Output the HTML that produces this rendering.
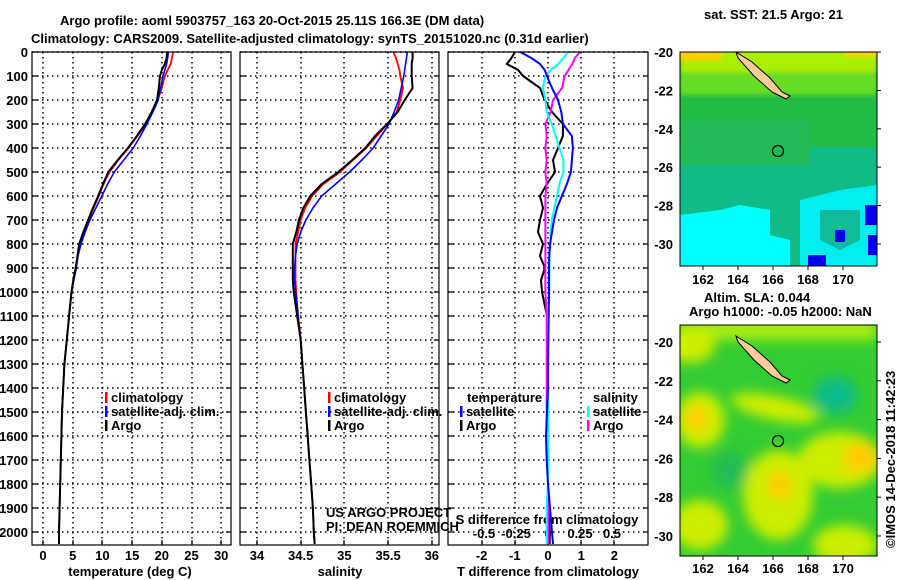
<!DOCTYPE html>
<html><head><meta charset="utf-8"><style>
html,body{margin:0;padding:0;background:#fff}
svg{display:block}
text{font-family:"Liberation Sans",Arial,sans-serif;font-weight:bold;font-size:13px;fill:#000}
</style></head><body>
<svg id="fig" width="900" height="580" viewBox="0 0 900 580" xmlns="http://www.w3.org/2000/svg">
<defs>
<filter id="blur1" x="-20%" y="-20%" width="140%" height="140%"><feGaussianBlur stdDeviation="2"/></filter>
<filter id="blur2" x="-30%" y="-30%" width="160%" height="160%"><feGaussianBlur stdDeviation="6"/></filter>
<clipPath id="clipTop"><rect x="680" y="52" width="197" height="214"/></clipPath>
<clipPath id="clipBot"><rect x="680" y="325" width="197" height="231"/></clipPath>
</defs>
<text x="60" y="25" font-size="14">Argo profile: aoml 5903757_163 20-Oct-2015 25.11S 166.3E (DM data)</text>
<text x="31" y="43" font-size="14">Climatology: CARS2009. Satellite-adjusted climatology: synTS_20151020.nc (0.31d earlier)</text>

<g clip-path="url(#clipTop)">
<rect x="680" y="52" width="197" height="214" fill="#11bb88"/>
<rect x="680" y="52" width="197" height="95" fill="#22bb44"/>
<g filter="url(#blur1)">
<rect x="680" y="40" width="197" height="55" fill="#66dd22"/>
<rect x="680" y="40" width="197" height="32" fill="#aaee00"/>
<rect x="676" y="40" width="45" height="20" fill="#ffcc00"/>
<rect x="845" y="40" width="40" height="16" fill="#ffcc00"/>
<rect x="680" y="120" width="130" height="45" fill="#22bb55"/>
</g>
<path d="M680 215 L720 210 L740 205 L770 210 L770 235 L790 240 L790 266 L680 266Z" fill="#00ffff"/>
<path d="M800 200 L840 190 L877 185 L877 266 L800 266Z" fill="#00eeee"/>
<path d="M820 210 L860 210 L860 240 L840 250 L820 240Z" fill="#11bb99"/>
<rect x="865" y="205" width="12" height="20" fill="#0000ee"/>
<rect x="835" y="230" width="10" height="12" fill="#0000ee"/>
<rect x="808" y="255" width="18" height="11" fill="#0000ee"/>
<rect x="868" y="235" width="9" height="20" fill="#0000ee"/>
<path d="M736 52 L752 62 L770 78 L782 92 L790 96 L786 99 L772 92 L754 76 L738 58Z" fill="#ffcc99" stroke="#000" stroke-width="1"/>
<circle cx="778" cy="151" r="5.5" fill="none" stroke="#000" stroke-width="1.2"/>
</g>
<rect x="680" y="52" width="197" height="214" fill="none" stroke="#000" stroke-width="1"/>
<text x="704" y="19" font-size="12">sat. SST: 21.5 Argo: 21</text>

<g clip-path="url(#clipBot)">
<rect x="680" y="325" width="197" height="231" fill="#33cc33"/>
<g filter="url(#blur2)">
<rect x="680" y="320" width="197" height="20" fill="#aaee11"/>
<ellipse cx="700" cy="420" rx="25" ry="28" fill="#ccee00"/>
<ellipse cx="697" cy="418" rx="12" ry="12" fill="#ffcc00"/>
<ellipse cx="840" cy="460" rx="42" ry="28" fill="#ccee00"/>
<ellipse cx="860" cy="458" rx="18" ry="15" fill="#ffcc00"/>
<ellipse cx="778" cy="495" rx="35" ry="45" fill="#ccee00"/>
<ellipse cx="780" cy="485" rx="12" ry="15" fill="#ffcc00"/>
<ellipse cx="775" cy="408" rx="45" ry="12" fill="#ccee00" transform="rotate(12 775 408)"/>
<ellipse cx="700" cy="525" rx="28" ry="25" fill="#ccee00"/>
<ellipse cx="845" cy="545" rx="32" ry="20" fill="#ccee00"/>
<ellipse cx="690" cy="345" rx="25" ry="18" fill="#ccee00"/>
<ellipse cx="835" cy="395" rx="22" ry="18" fill="#11bb88"/>
<ellipse cx="730" cy="470" rx="18" ry="18" fill="#22bb55"/>
</g>
<path d="M736 336 L752 346 L770 362 L782 376 L790 380 L786 383 L772 376 L754 360 L738 342Z" fill="#ffcc99" stroke="#000" stroke-width="1"/>
<circle cx="778" cy="441" r="5.5" fill="none" stroke="#000" stroke-width="1.2"/>
</g>
<rect x="680" y="325" width="197" height="231" fill="none" stroke="#000" stroke-width="1"/>
<text x="704" y="302" font-size="12">Altim. SLA: 0.044</text>
<text x="689" y="316" font-size="12">Argo h1000: -0.05 h2000: NaN</text>
<text transform="translate(895,548) rotate(-90)" font-size="12" font-weight="normal">©IMOS 14-Dec-2018 11:42:23</text>

<g id="plots"></g>
</svg>
<script>
// ---- data ----
const depths = [0,25,50,75,100,150,200,250,300,350,400,450,500,550,600,650,700,750,800,850,900,950,1000,1100,1200,1300,1400,1500,1600,1700,1800,1900,2000,2050];
const tempArgo = [20.9,20.8,20.5,20.0,19.7,19.5,19.2,18.3,17.2,15.8,14.3,12.6,11.0,10.1,9.3,8.4,7.6,6.8,6.1,5.8,5.5,5.1,4.8,4.4,4.0,3.6,3.4,3.2,3.1,3.0,2.9,2.8,2.7,2.7];
const tempClim = [21.9,21.7,21.5,21.0,20.5,20.0,19.3,18.4,17.3,15.9,14.4,12.7,11.2,10.2,9.4,8.5,7.7,6.9,6.2,5.8,5.5,5.1,4.8,4.4,4.0,3.6,3.4,3.2,3.1,3.0,2.9,2.8,2.7,2.7];
const tempSat = [21.1,21.0,20.8,20.5,20.2,19.8,19.4,18.5,17.5,16.4,15.2,13.6,12.0,10.9,9.9,8.9,7.9,7.1,6.4,5.9,5.6,5.2,4.8,4.4,4.0,3.6,3.4,3.2,3.1,3.0,2.9,2.8,2.7,2.7];
const salArgo = [35.78,35.78,35.77,35.77,35.77,35.78,35.69,35.61,35.49,35.35,35.24,35.09,34.93,34.74,34.61,34.53,34.48,34.45,34.41,34.41,34.41,34.41,34.42,34.46,34.50,34.52,34.54,34.56,34.58,34.60,34.62,34.64,34.65,34.66];
const salClim = [35.56,35.59,35.61,35.63,35.64,35.67,35.64,35.60,35.49,35.37,35.25,35.10,34.95,34.76,34.63,34.55,34.50,34.47,34.44,34.44,34.44,34.44,34.45,34.47,34.50,34.52,34.54,34.56,34.58,34.60,34.62,34.64,34.65,34.66];
const salSat = [35.72,35.71,35.70,35.69,35.68,35.65,35.62,35.57,35.51,35.42,35.33,35.20,35.06,34.90,34.74,34.64,34.56,34.50,34.46,34.44,34.43,34.43,34.44,34.47,34.50,34.52,34.54,34.56,34.58,34.60,34.62,34.64,34.65,34.66];
const dTArgo = [-1.0,-1.1,-1.24,-0.9,-0.75,-0.24,-0.1,0.12,0.45,0.45,0.30,0.15,0.21,-0.03,-0.24,-0.15,-0.24,-0.30,-0.15,-0.24,-0.09,-0.21,-0.18,-0.03,0.0,0.0,0.0,0.0,0.0,0.0,0.0,0.0,0.05,0.05];
const dTSat = [-0.84,-0.5,-0.24,-0.1,-0.03,0.12,0.30,0.40,0.45,0.72,0.75,0.72,0.69,0.57,0.42,0.27,0.18,0.12,0.06,0.04,0.03,0.03,0.03,0.02,0.01,0.0,0.0,-0.03,-0.06,-0.04,0.0,0.06,0.12,0.15];
const dSSat = [0.16,0.12,0.08,0.02,-0.02,-0.04,-0.02,-0.01,0.03,0.06,0.09,0.12,0.12,0.09,0.07,0.05,0.03,0.02,0.02,0.01,0.01,0.01,0.01,0.0,0.0,0.0,0.0,0.0,0.0,0.0,0.0,-0.01,-0.01,-0.01];
const dSArgo = [0.25,0.21,0.19,0.16,0.13,0.11,0.04,0.02,-0.02,-0.01,-0.02,-0.01,-0.02,-0.01,-0.02,-0.02,-0.02,-0.02,-0.02,-0.02,-0.02,-0.02,-0.02,-0.01,-0.01,-0.01,-0.01,-0.01,-0.01,0.0,0.0,0.0,0.0,0.0];
const depthTicks = [0,100,200,300,400,500,600,700,800,900,1000,1100,1200,1300,1400,1500,1600,1700,1800,1900,2000];
const tempTicks = [0,5,10,15,20,25,30];
const salTicks = [34,34.5,35,35.5,36];
const salTickLabels = ["34","34.5","35","35.5","36"];
const dTTicks = [-2,-1,0,1,2];
const dSTicks = [-0.5,-0.25,0,0.25,0.5];
const dSTickLabels = ["-0.5","-0.25","0","0.25","0.5"];
const mapLonTicks = [162,164,166,168,170];
const mapLatTicks = [-20,-22,-24,-26,-28,-30];

// ---- scales ----
const yD = d => 52 + d*0.24;
const xT = t => 43 + t*5.94;
const xS = s => 257 + (s-34)*87.4;
const xDT = v => 548 + v*33.2;
const xDS = v => 548 + v*128;
const lonTop = lo => 703 + (lo-162)*17.5;
const latTop = la => 52 + (-20-la)*19.2;
const latBot = la => 342 + (-20-la)*19.4;

const NS='http://www.w3.org/2000/svg';
const G=document.getElementById('plots');
function mk(tag,attrs,parent){const e=document.createElementNS(NS,tag);for(const k in attrs)e.setAttribute(k,attrs[k]);(parent||G).appendChild(e);return e;}
function txt(x,y,s,anchor,size,parent){const e=mk('text',{x:x,y:y,'text-anchor':anchor||'start','font-size':size||13},parent);e.textContent=s;return e;}

const panels=[{x0:32,x1:231,name:'temperature'},{x0:240,x1:439,name:'salinity'},{x0:448,x1:648,name:'difference'}];
panels.forEach((p,i)=>{
  const g=mk('g',{});
  
  
  depthTicks.forEach(d=>{
    const yy=Math.round(yD(d));
    const l=mk('line',{x1:p.x0,x2:p.x1,y1:yy,y2:yy,stroke:'#000','stroke-width':1.5,'stroke-dasharray':'1.5,3.5'},g);
    
    
    mk('line',{x1:p.x0,x2:p.x0+5,y1:yy,y2:yy,stroke:'#000','stroke-width':1.2},g);
    mk('line',{x1:p.x1-5,x2:p.x1,y1:yy,y2:yy,stroke:'#000','stroke-width':1.2},g);
  });
  p.g=g;
});
function vgrid(p,xs){xs.forEach(x=>{
  const xx=Math.round(x);
  const l=mk('line',{x1:xx,x2:xx,y1:52,y2:545,stroke:'#000','stroke-width':1.5,'stroke-dasharray':'1.5,3.5'},p.g);
  
  
  mk('line',{x1:xx,x2:xx,y1:545,y2:540,stroke:'#000','stroke-width':1.2},p.g);
});}
vgrid(panels[0],tempTicks.map(xT));
vgrid(panels[1],salTicks.map(xS));
vgrid(panels[2],dTTicks.map(xDT));

depthTicks.forEach(d=>{
  const t=txt(28,yD(d)+5,String(d),'end',12);
  
  
});
tempTicks.forEach(v=>{const t=txt(xT(v),560,String(v),'middle',12);
  
  });
salTicks.forEach((v,i)=>{const t=txt(xS(v),560,salTickLabels[i],'middle',12);
  
  });
dTTicks.forEach(v=>{const t=txt(xDT(v),560,String(v),'middle',12);
  
  });
dSTicks.forEach((v,i)=>{const t=txt(xDS(v),538,dSTickLabels[i],'middle',12);
  
  });

let t;
t=txt(130,576,'temperature (deg C)','middle',12);


t=txt(340,576,'salinity','middle',12);


t=txt(548,576,'T difference from climatology','middle',12);


t=txt(547,524,'S difference from climatology','middle',12);



function series(vals,xf,color,name,w){
  const pts=vals.map((v,i)=>xf(v).toFixed(1)+','+yD(depths[i]).toFixed(1)).join(' ');
  const l=mk('polyline',{points:pts,fill:'none',stroke:color,'stroke-width':w||2,'stroke-linejoin':'round'});
  
  
}
series(tempClim,xT,'#ff0000','temp-climatology-line',1.8);
series(tempSat,xT,'#0000ff','temp-satellite-line',1.6);
series(tempArgo,xT,'#000000','temp-argo-line',2);
series(salClim,xS,'#ff0000','sal-climatology-line',1.8);
series(salSat,xS,'#0000ff','sal-satellite-line',1.6);
series(salArgo,xS,'#000000','sal-argo-line',2);
series(dTArgo,xDT,'#000000','dt-argo-line',2);
series(dSArgo,xDS,'#ff00ff','ds-argo-line',2);
series(dSSat,xDS,'#00ffff','ds-satellite-line',2);
series(dTSat,xDT,'#0000ff','dt-satellite-line',2);

panels.forEach(p=>{const r=mk('rect',{x:p.x0,y:52,width:p.x1-p.x0,height:493,fill:'none',stroke:'#000','stroke-width':1.2});
  
  });

function legItem(x,y,color,label,name){
  mk('rect',{x:x,y:y-10,width:2.5,height:11,fill:color});
  const e=txt(x+6,y,label,'start',12);
  
  
}
legItem(105,402,'#ff0000','climatology','legend-temp-climatology');
legItem(105,416,'#0000ff','satellite-adj. clim.','legend-temp-satellite');
legItem(105,430,'#000000','Argo','legend-temp-argo');
legItem(328,402,'#ff0000','climatology','legend-sal-climatology');
legItem(328,416,'#0000ff','satellite-adj. clim.','legend-sal-satellite');
legItem(328,430,'#000000','Argo','legend-sal-argo');
t=txt(467,402,'temperature','start',12);


legItem(460,416,'#0000ff','satellite','legend-dt-satellite');
legItem(460,430,'#000000','Argo','legend-dt-argo');
t=txt(593,402,'salinity','start',12);


legItem(587,416,'#00ffff','satellite','legend-ds-satellite');
legItem(587,430,'#ff00ff','Argo','legend-ds-argo');
t=txt(326,517,'US ARGO PROJECT','start',12);
t.setAttribute('font-weight','normal');


t=txt(326,531,'PI: DEAN ROEMMICH','start',12);
t.setAttribute('font-weight','normal');



mapLatTicks.forEach(la=>{
  let e=txt(673,latTop(la)+5,String(la),'end',12);
  
  
  mk('line',{x1:877,x2:881,y1:latTop(la),y2:latTop(la),stroke:'#000'});
  e=txt(673,latBot(la)+5,String(la),'end',12);
  
  
  mk('line',{x1:877,x2:881,y1:latBot(la),y2:latBot(la),stroke:'#000'});
});
mapLonTicks.forEach(lo=>{
  let e=txt(lonTop(lo),284,String(lo),'middle',12);
  
  
  mk('line',{x1:lonTop(lo),x2:lonTop(lo),y1:266,y2:270,stroke:'#000'});
  e=txt(lonTop(lo),573,String(lo),'middle',12);
  
  
  mk('line',{x1:lonTop(lo),x2:lonTop(lo),y1:556,y2:560,stroke:'#000'});
});
</script>
</body></html>
